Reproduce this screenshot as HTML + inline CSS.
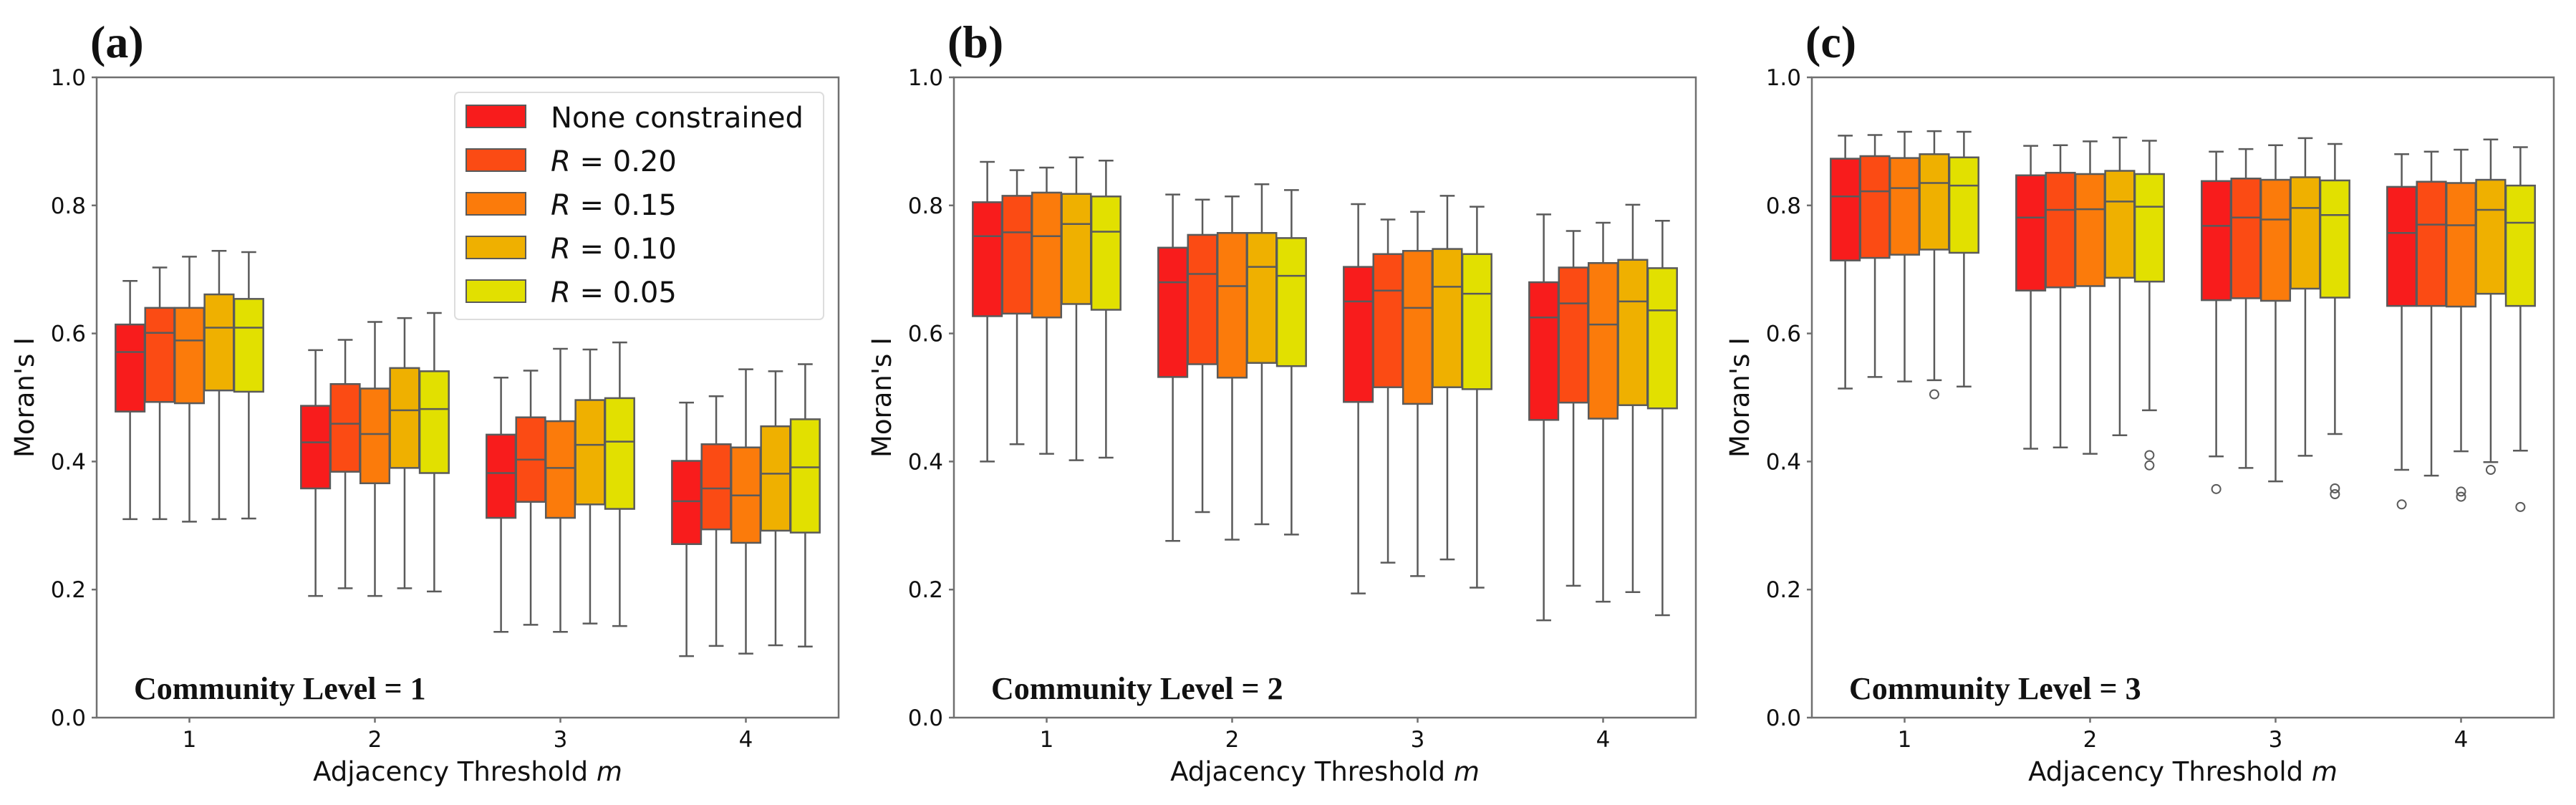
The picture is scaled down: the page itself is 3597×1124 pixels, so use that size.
<!DOCTYPE html>
<html><head><meta charset="utf-8"><style>
html,body{margin:0;padding:0;background:#fff;}
svg{display:block;}
</style></head><body>
<svg id="chart" width="3597" height="1124" xmlns="http://www.w3.org/2000/svg"></svg>
<script>
// ---- data ----
const categories = ["1","2","3","4"];
const seriesNames = ["None constrained","R = 0.20","R = 0.15","R = 0.10","R = 0.05"];
const yTicks = [0.0,0.2,0.4,0.6,0.8,1.0];
const panelLabels = ["(a)","(b)","(c)"];
const levelLabels = ["Community Level = 1","Community Level = 2","Community Level = 3"];
// each box: [low whisker, Q1, median, Q3, high whisker]
const panelA = [
 [[0.31,0.478,0.571,0.614,0.682],[0.31,0.493,0.601,0.64,0.703],[0.306,0.491,0.589,0.64,0.72],[0.31,0.511,0.609,0.661,0.729],[0.311,0.509,0.609,0.654,0.727]],
 [[0.19,0.358,0.43,0.487,0.574],[0.202,0.384,0.459,0.521,0.59],[0.19,0.366,0.443,0.514,0.618],[0.202,0.39,0.48,0.546,0.624],[0.197,0.382,0.482,0.541,0.632]],
 [[0.134,0.312,0.382,0.442,0.531],[0.145,0.337,0.403,0.469,0.542],[0.134,0.312,0.39,0.463,0.576],[0.147,0.333,0.426,0.496,0.575],[0.143,0.326,0.431,0.499,0.586]],
 [[0.096,0.271,0.338,0.401,0.492],[0.112,0.294,0.358,0.427,0.502],[0.1,0.273,0.347,0.422,0.544],[0.113,0.292,0.381,0.455,0.541],[0.111,0.289,0.391,0.466,0.552]]
];
const panelB = [
 [[0.4,0.627,0.752,0.805,0.868],[0.427,0.631,0.758,0.815,0.855],[0.412,0.625,0.752,0.82,0.859],[0.402,0.646,0.771,0.818,0.875],[0.406,0.637,0.759,0.814,0.87]],
 [[0.276,0.532,0.68,0.734,0.817],[0.321,0.552,0.693,0.754,0.809],[0.278,0.531,0.674,0.757,0.814],[0.302,0.554,0.704,0.757,0.833],[0.286,0.549,0.69,0.749,0.824]],
 [[0.194,0.493,0.65,0.704,0.802],[0.242,0.516,0.667,0.724,0.778],[0.221,0.49,0.64,0.729,0.79],[0.247,0.516,0.673,0.732,0.815],[0.203,0.513,0.662,0.724,0.798]],
 [[0.152,0.465,0.625,0.68,0.786],[0.206,0.492,0.647,0.703,0.76],[0.181,0.467,0.614,0.71,0.773],[0.196,0.488,0.65,0.715,0.801],[0.16,0.483,0.636,0.702,0.776]]
];
const panelC = [
 [[0.514,0.714,0.814,0.873,0.909],[0.532,0.718,0.822,0.877,0.91],[0.525,0.723,0.827,0.874,0.915],[0.527,0.731,0.835,0.88,0.916],[0.517,0.726,0.831,0.875,0.915]],
 [[0.42,0.667,0.781,0.847,0.893],[0.422,0.672,0.793,0.851,0.894],[0.412,0.674,0.794,0.849,0.9],[0.441,0.687,0.806,0.854,0.906],[0.48,0.681,0.798,0.849,0.901]],
 [[0.408,0.652,0.768,0.838,0.884],[0.39,0.655,0.781,0.842,0.888],[0.369,0.651,0.778,0.84,0.894],[0.409,0.67,0.796,0.844,0.905],[0.443,0.656,0.785,0.839,0.896]],
 [[0.387,0.643,0.757,0.829,0.88],[0.378,0.643,0.77,0.837,0.884],[0.416,0.642,0.769,0.835,0.887],[0.399,0.662,0.793,0.84,0.903],[0.417,0.643,0.773,0.831,0.891]]
];
// outliers: [category index, series index, value]
const outliersA = [];
const outliersB = [];
const outliersC = [[0,3,0.505],[1,4,0.41],[1,4,0.394],[2,0,0.357],[2,4,0.358],[2,4,0.349],[3,0,0.333],[3,2,0.353],[3,2,0.345],[3,3,0.387],[3,4,0.329]];

const colors = ["#f81c1c","#fb4b14","#fb7b0b","#efb000","#e2e000"];
const NS="http://www.w3.org/2000/svg";
const svg=document.getElementById('chart');
function mk(tag,attrs,parent){const e=document.createElementNS(NS,tag);for(const k in attrs)e.setAttribute(k,attrs[k]);(parent||svg).appendChild(e);return e;}

const panels=[{x0:135,data:panelA,out:outliersA},{x0:1332,data:panelB,out:outliersB},{x0:2530,data:panelC,out:outliersC}];
const plotW=1036, plotTop=108, plotBot=1002;
const sans='"DejaVu Sans", "Liberation Sans", sans-serif';
const serif='"Liberation Serif", serif';

panels.forEach((p,pi)=>{
  const g=mk('g',{});
  
  
  const yS=v=>plotBot-(plotBot-plotTop)*v;
  const step=plotW/categories.length;
  const xS=i=>p.x0+step*(i+0.5);
  const bw=step*0.8/seriesNames.length;
  p.data.forEach((grp,ci)=>{
    grp.forEach((b,si)=>{
      const cx=xS(ci)-step*0.4+bw*(si+0.5);
      const bg=mk('g',{},g);
      
      
      const st={stroke:'#5a5a5a','stroke-width':2.5,fill:'none'};
      mk('line',Object.assign({x1:cx,x2:cx,y1:yS(b[3]),y2:yS(b[4])},st),bg);
      mk('line',Object.assign({x1:cx,x2:cx,y1:yS(b[1]),y2:yS(b[0])},st),bg);
      mk('line',Object.assign({x1:cx-bw/4,x2:cx+bw/4,y1:yS(b[4]),y2:yS(b[4])},st),bg);
      mk('line',Object.assign({x1:cx-bw/4,x2:cx+bw/4,y1:yS(b[0]),y2:yS(b[0])},st),bg);
      mk('rect',{x:cx-bw*0.49,y:yS(b[3]),width:bw*0.98,height:yS(b[1])-yS(b[3]),fill:colors[si],stroke:'#5a5a5a','stroke-width':2.5},bg);
      mk('line',Object.assign({x1:cx-bw*0.49,x2:cx+bw*0.49,y1:yS(b[2]),y2:yS(b[2])},st),bg);
    });
  });
  p.out.forEach(o=>{
    const cx=xS(o[0])-step*0.4+bw*(o[1]+0.5);
    const c=mk('circle',{cx:cx,cy:yS(o[2]),r:6,fill:'none',stroke:'#5a5a5a','stroke-width':2},g);
    
    
  });
  const fr=mk('rect',{x:p.x0,y:plotTop,width:plotW,height:plotBot-plotTop,fill:'none',stroke:'#707070','stroke-width':2.5},g);
  
  
  yTicks.forEach(t=>{
    mk('line',{x1:p.x0-7,x2:p.x0,y1:yS(t),y2:yS(t),stroke:'#707070','stroke-width':2.5},g);
    const tx=mk('text',{x:p.x0-15,y:yS(t)+11,'text-anchor':'end','font-family':sans,'font-size':31,fill:'#111'},g);
    tx.textContent=t.toFixed(1);
    
    
  });
  categories.forEach((c,i)=>{
    mk('line',{x1:xS(i),x2:xS(i),y1:plotBot,y2:plotBot+7,stroke:'#707070','stroke-width':2.5},g);
    const tx=mk('text',{x:xS(i),y:plotBot+41,'text-anchor':'middle','font-family':sans,'font-size':31,fill:'#111'},g);
    tx.textContent=c;
    
    
  });
  const xl=mk('text',{x:p.x0+plotW/2,y:1090,'text-anchor':'middle','font-family':sans,'font-size':37,fill:'#111'},g);
  xl.innerHTML='Adjacency Threshold <tspan font-style="italic">m</tspan>';
  
  
  const yl=mk('text',{x:0,y:0,transform:`translate(${p.x0-88},${(plotTop+plotBot)/2}) rotate(-90)`,'text-anchor':'middle','font-family':sans,'font-size':37,fill:'#111'},g);
  yl.textContent="Moran's I";
  
  
  const lv=mk('text',{x:p.x0+52,y:976,'font-family':serif,'font-size':44,'font-weight':'bold',fill:'#111'},g);
  lv.textContent=levelLabels[pi];
  
  
  const pl=mk('text',{x:p.x0-9,y:80,'font-family':serif,'font-size':64,'font-weight':'bold',fill:'#111'},g);
  pl.textContent=panelLabels[pi];
  
  
});
const lg=mk('g',{});


mk('rect',{x:635,y:129,width:515,height:317,rx:6,fill:'#fff',stroke:'#dddddd','stroke-width':2},lg);
seriesNames.forEach((n,i)=>{
  const y=163+61*i;
  const e=mk('g',{},lg);
  
  
  mk('rect',{x:651,y:y-16,width:83,height:31,fill:colors[i],stroke:'#5a5a5a','stroke-width':2},e);
  const t=mk('text',{x:769,y:y+15,'font-family':sans,'font-size':40,fill:'#111'},e);
  if(i===0)t.textContent=n;
  else t.innerHTML='<tspan font-style="italic">R</tspan> = '+n.split('= ')[1];
});
</script>
</body></html>
